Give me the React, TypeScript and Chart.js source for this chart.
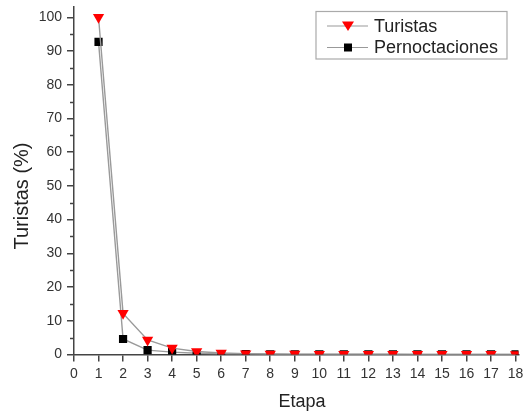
import React, { useEffect, useRef } from "react";
import { Chart, registerables } from "chart.js";

Chart.register(...registerables);

const etapas = [1, 2, 3, 4, 5, 6, 7, 8, 9, 10, 11, 12, 13, 14, 15, 16, 17, 18];
const turistas = [100, 12.2, 4.3, 1.9, 0.9, 0.45, 0.25, 0.15, 0.12, 0.1, 0.08, 0.07, 0.06, 0.05, 0.05, 0.04, 0.04, 0.03];
const pernoctaciones = [92.7, 4.6, 1.3, 0.7, 0.35, 0.15, 0.1, 0.07, 0.05, 0.04, 0.03, 0.03, 0.02, 0.02, 0.02, 0.02, 0.01, 0.01];
const xTicks = [0, 1, 2, 3, 4, 5, 6, 7, 8, 9, 10, 11, 12, 13, 14, 15, 16, 17, 18];
const yTicks = [0, 10, 20, 30, 40, 50, 60, 70, 80, 90, 100];
const yMinorTicks = [5, 15, 25, 35, 45, 55, 65, 75, 85, 95];
const seriesNames = ["Turistas", "Pernoctaciones"];
const xTitle = "Etapa";
const yTitle = "Turistas (%)";

const FONT = "'Liberation Sans', Arial, sans-serif";
const AXIS = "#444";

const minorTicksPlugin = {
  id: "minorTicks",
  afterDraw(chart: any) {
    const ctx = chart.ctx;
    const y = chart.scales.y;
    ctx.save();
    ctx.strokeStyle = AXIS;
    ctx.lineWidth = 1.5;
    yMinorTicks.forEach((v) => {
      const py = Math.round(y.getPixelForValue(v)) + 0.5;
      ctx.beginPath();
      ctx.moveTo(y.right - 4, py);
      ctx.lineTo(y.right, py);
      ctx.stroke();
    });
    ctx.restore();
  },
};

const titlesPlugin = {
  id: "axisTitles",
  afterDraw(chart: any) {
    const ctx = chart.ctx;
    ctx.save();
    ctx.fillStyle = "#222";
    ctx.font = `18px ${FONT}`;
    ctx.textAlign = "center";
    ctx.textBaseline = "alphabetic";
    ctx.fillText(xTitle, 302, 407);
    ctx.translate(27.5, 196);
    ctx.rotate(-Math.PI / 2);
    ctx.font = `20px ${FONT}`;
    ctx.fillText(yTitle, 0, 0);
    ctx.restore();
  },
};

const legendPlugin = {
  id: "customLegend",
  afterDraw(chart: any) {
    const ctx = chart.ctx;
    ctx.save();
    const bx = 316, by = 11.5, bw = 191, bh = 47.5;
    ctx.strokeStyle = "#aaa";
    ctx.lineWidth = 1.2;
    ctx.strokeRect(bx, by, bw, bh);
    const rows = [26, 47.5];
    rows.forEach((ry, i) => {
      ctx.strokeStyle = "#999";
      ctx.lineWidth = 1.2;
      ctx.beginPath();
      ctx.moveTo(327, ry);
      ctx.lineTo(368, ry);
      ctx.stroke();
      if (i === 0) {
        ctx.fillStyle = "#ff0000";
        ctx.beginPath();
        ctx.moveTo(342, ry - 4.5);
        ctx.lineTo(354, ry - 4.5);
        ctx.lineTo(348, ry + 5);
        ctx.closePath();
        ctx.fill();
      } else {
        ctx.fillStyle = "#000";
        ctx.fillRect(344, ry - 4, 8, 8);
      }
      ctx.fillStyle = "#222";
      ctx.font = `18px ${FONT}`;
      ctx.textBaseline = "middle";
      ctx.textAlign = "left";
      ctx.fillText(seriesNames[i], 374, ry + 1);
    });
    ctx.restore();
  },
};

export default function App() {
  const ref = useRef<HTMLCanvasElement>(null);
  useEffect(() => {
    if (!ref.current) return;
    const chart = new Chart(ref.current, {
      type: "line",
      data: {
        datasets: [
          {
            label: seriesNames[0],
            data: etapas.map((e, i) => ({ x: e, y: turistas[i] })),
            borderColor: "#9a9a9a",
            borderWidth: 1.4,
            pointStyle: "triangle",
            pointRotation: 180,
            pointRadius: 6.5,
            pointBackgroundColor: "#ff0000",
            pointBorderWidth: 0,
            tension: 0,
          },
          {
            label: seriesNames[1],
            data: etapas.map((e, i) => ({ x: e, y: pernoctaciones[i] })),
            borderColor: "#9a9a9a",
            borderWidth: 1.4,
            pointStyle: "rect",
            pointRadius: 5.8,
            pointBackgroundColor: "#000",
            pointBorderWidth: 0,
            tension: 0,
          },
        ],
      },
      options: {
        responsive: false,
        animation: false,
        layout: { padding: { top: 6, right: 0, left: 0, bottom: 0 } },
        plugins: { legend: { display: false }, tooltip: { enabled: false } },
        scales: {
          x: {
            type: "linear",
            min: 0,
            max: 18.12,
            afterBuildTicks: (s: any) => {
              s.ticks = xTicks.map((v) => ({ value: v }));
            },
            afterFit: (s: any) => {
              s.height = 57.5;
              s.paddingLeft = 0;
              s.paddingRight = 0;
            },
            border: { color: AXIS, width: 1.5 },
            grid: { drawOnChartArea: false, drawTicks: true, tickLength: 7, color: AXIS, lineWidth: 1.5 },
            ticks: { color: "#333", font: { family: FONT, size: 14 }, padding: 4, maxRotation: 0, autoSkip: false },
            title: { display: false },
          },
          y: {
            type: "linear",
            min: 0,
            max: 103.2,
            afterBuildTicks: (s: any) => {
              s.ticks = yTicks.map((v) => ({ value: v }));
            },
            afterFit: (s: any) => {
              s.width = 74;
              s.paddingTop = 0;
              s.paddingBottom = 0;
            },
            border: { color: AXIS, width: 1.5 },
            grid: { drawOnChartArea: false, drawTicks: true, tickLength: 7, color: AXIS, lineWidth: 1.5 },
            ticks: { color: "#333", font: { family: FONT, size: 14 }, padding: 5, autoSkip: false },
            title: { display: false },
          },
        },
      },
      plugins: [minorTicksPlugin, titlesPlugin, legendPlugin],
    } as any);
    return () => chart.destroy();
  }, []);
  return (
    <div style={{ position: "absolute", left: 0, top: 0, width: 525, height: 412, background: "#fff" }}>
      <canvas ref={ref} width={525} height={412} style={{ width: 525, height: 412, display: "block" }} />
    </div>
  );
}
